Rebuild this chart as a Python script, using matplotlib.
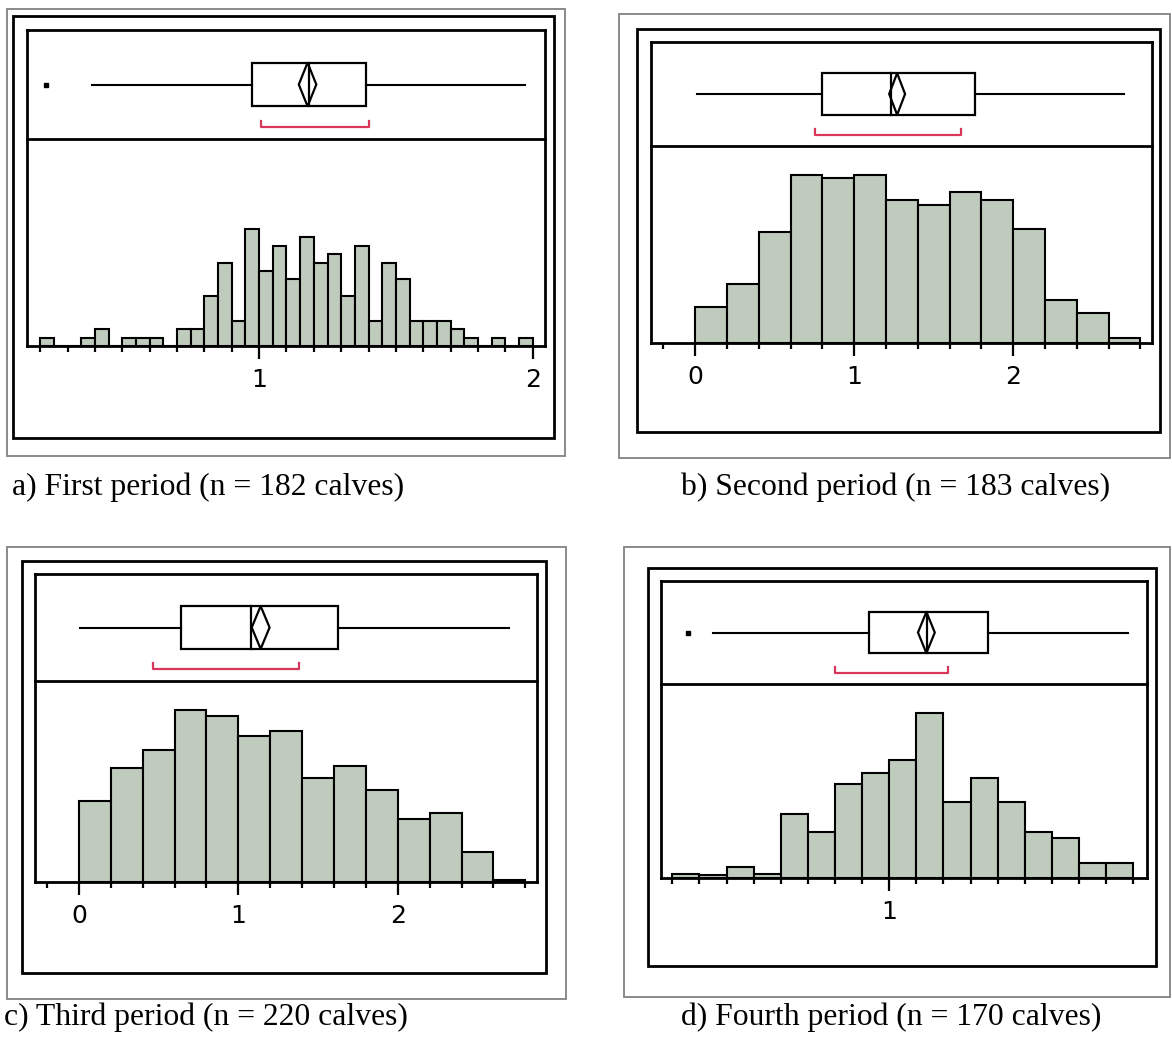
import matplotlib
matplotlib.use("Agg")
import matplotlib.pyplot as plt
from matplotlib.patches import Rectangle, Polygon
from matplotlib.ticker import FixedLocator, NullFormatter
import numpy as np

# ---------------- data ----------------
captions = ["a) First period (n = 182 calves)",
            "b) Second period (n = 183 calves)",
            "c) Third period (n = 220 calves)",
            "d) Fourth period (n = 170 calves)"]

# panel a : bins of 0.05 starting at 0.20
a_bin_start, a_bin_width = 0.20, 0.05
a_freq = [1, 0, 0, 1, 2, 0, 1, 1, 1, 0, 2, 2, 6, 10, 3, 14, 9, 12, 8, 13,
          10, 11, 6, 12, 3, 10, 8, 3, 3, 3, 2, 1, 0, 1, 0, 1]
a_ticks = [0.2, 0.3, 0.4, 0.5, 0.6, 0.7, 0.8, 0.9, 1.0, 1.1, 1.2, 1.3, 1.4,
           1.5, 1.6, 1.7, 1.8, 1.9, 2.0]
a_labeled = [1, 2]
a_box = dict(outliers=[0.223], wlo=0.39, q1=0.973, med=1.184, q3=1.392,
             whi=1.973, mean=1.177, ci=0.032, sh_lo=1.007, sh_hi=1.401)

# panel b : bins of 0.2 starting at 0
b_bin_start, b_bin_width = 0.0, 0.2
b_freq = [4.5, 7.3, 13.8, 20.8, 20.5, 20.8, 17.7, 17.1, 18.8, 17.7, 14.1,
          5.4, 3.7, 0.6]
b_ticks = [-0.2, 0.0, 0.2, 0.4, 0.6, 0.8, 1.0, 1.2, 1.4, 1.6, 1.8, 2.0, 2.2,
           2.4, 2.6, 2.8]
b_labeled = [0, 1, 2]
b_box = dict(outliers=[], wlo=0.01, q1=0.80, med=1.233, q3=1.759,
             whi=2.70, mean=1.27, ci=0.05, sh_lo=0.753, sh_hi=1.672)

# panel c : bins of 0.2 starting at 0
c_bin_start, c_bin_width = 0.0, 0.2
c_freq = [12.4, 17.4, 20.2, 26.3, 25.5, 22.3, 23.1, 15.9, 17.7, 14.1, 9.6,
          10.6, 4.6, 0.36]
c_ticks = [-0.2, 0.0, 0.2, 0.4, 0.6, 0.8, 1.0, 1.2, 1.4, 1.6, 1.8, 2.0, 2.2,
           2.4, 2.6, 2.8]
c_labeled = [0, 1, 2]
c_box = dict(outliers=[], wlo=0.01, q1=0.64, med=1.077, q3=1.624,
             whi=2.696, mean=1.14, ci=0.056, sh_lo=0.464, sh_hi=1.38)

# panel d : bins of 0.1 starting at 0.2
d_bin_start, d_bin_width = 0.2, 0.1
d_freq = [0.75, 0.57, 1.9, 0.75, 11.1, 8.0, 16.2, 18.1, 20.4, 28.5, 13.1,
          17.3, 13.1, 8.0, 6.9, 2.7, 2.7]
d_ticks = [0.2, 0.3, 0.4, 0.5, 0.6, 0.7, 0.8, 0.9, 1.0, 1.1, 1.2, 1.3, 1.4,
           1.5, 1.6, 1.7, 1.8, 1.9]
d_labeled = [1]
d_box = dict(outliers=[0.256], wlo=0.35, q1=0.926, med=1.138, q3=1.363,
             whi=1.881, mean=1.137, ci=0.031, sh_lo=0.80, sh_hi=1.215)

# ---------------- layout (pixels) ----------------
W, H = 1172, 1039
fig = plt.figure(figsize=(W / 100, H / 100), dpi=100)

panels = [
    dict(data=(a_bin_start, a_bin_width, a_freq, a_ticks, a_labeled, a_box),
         gray=(6.7, 9, 565, 456), black=(13, 16, 554, 438),
         inner=(27, 30, 544.6, 346), div=139, xlim=(0.152, 2.043), ymax=24.8,
         cap=(12, 495)),
    dict(data=(b_bin_start, b_bin_width, b_freq, b_ticks, b_labeled, b_box),
         gray=(619, 14, 1170, 458), black=(637, 29, 1160, 432),
         inner=(651, 42, 1152, 343), div=146, xlim=(-0.278, 2.873), ymax=24.46,
         cap=(681, 495)),
    dict(data=(c_bin_start, c_bin_width, c_freq, c_ticks, c_labeled, c_box),
         gray=(6.7, 547, 566, 999), black=(21.5, 561, 546, 973),
         inner=(35, 574, 537, 882), div=681, xlim=(-0.275, 2.873), ymax=30.8,
         cap=(4, 1025)),
    dict(data=(d_bin_start, d_bin_width, d_freq, d_ticks, d_labeled, d_box),
         gray=(623.5, 547, 1170, 997), black=(647.6, 567.7, 1155.8, 965.7),
         inner=(661, 581, 1146.5, 878.3), div=684, xlim=(0.158, 1.949), ymax=33.4,
         cap=(681, 1025)),
]

FILL = "#bfcbbd"
RED = "#d8375b"
GRAY = "#8a8a8a"


def frame(x0, y0, x1, y1, color, lw):
    fig.add_artist(Rectangle((x0 / W, 1 - y1 / H), (x1 - x0) / W, (y1 - y0) / H,
                             transform=fig.transFigure, fill=False,
                             edgecolor=color, linewidth=lw))


def axes_px(x0, y0, x1, y1):
    return fig.add_axes([x0 / W, 1 - y1 / H, (x1 - x0) / W, (y1 - y0) / H])


for i, p in enumerate(panels):
    start, width, freq, ticks, labeled, box = p["data"]
    frame(*p["gray"], GRAY, 1.4)
    frame(*p["black"], "black", 2.0)
    x0, y0, x1, y1 = p["inner"]

    # --- histogram axes
    ah = axes_px(x0, p["div"], x1, y1)
    edges = start + width * np.arange(len(freq))
    ah.bar(edges, freq, width=width, align="edge", color=FILL,
           edgecolor="black", linewidth=1.5, zorder=2)
    ah.set_xlim(*p["xlim"])
    ah.set_ylim(0, p["ymax"])
    ah.set_yticks([])
    ah.xaxis.set_major_locator(FixedLocator(labeled))
    ah.set_xticklabels([str(v) for v in labeled])
    minors = [t for t in ticks if all(abs(t - m) > 1e-9 for m in labeled)]
    ah.xaxis.set_minor_locator(FixedLocator(minors))
    ah.xaxis.set_minor_formatter(NullFormatter())
    ah.tick_params(axis="x", which="major", direction="out", length=9,
                   width=1.6, labelsize=18, pad=6.5)
    ah.tick_params(axis="x", which="minor", direction="out", length=4.5,
                   width=1.6)
    for s in ah.spines.values():
        s.set_linewidth(2.0)
    ah.spines["top"].set_visible(False)
    ah.patch.set_alpha(0)

    # --- box plot axes
    ab = axes_px(x0, y0, x1, p["div"])
    ab.set_xlim(*p["xlim"])
    ab.set_ylim(0, 1)
    ab.set_xticks([])
    ab.set_yticks([])
    for s in ab.spines.values():
        s.set_linewidth(2.0)
    lo, hi, mid = 0.30, 0.70, 0.50
    ab.plot([box["wlo"], box["q1"]], [mid, mid], color="black", lw=1.5)
    ab.plot([box["q3"], box["whi"]], [mid, mid], color="black", lw=1.5)
    ab.add_patch(Rectangle((box["q1"], lo), box["q3"] - box["q1"], hi - lo,
                           facecolor="white", edgecolor="black", lw=1.6))
    ab.plot([box["med"], box["med"]], [lo, hi], color="black", lw=1.6)
    m, c = box["mean"], box["ci"]
    ab.add_patch(Polygon([(m - c, mid), (m, hi), (m + c, mid), (m, lo)],
                         closed=True, fill=False, edgecolor="black", lw=1.6))
    for o in box["outliers"]:
        ab.plot([o], [mid], marker="s", color="black", markersize=3)
    ab.plot([box["sh_lo"], box["sh_lo"], box["sh_hi"], box["sh_hi"]],
            [0.165, 0.11, 0.11, 0.165], color=RED, lw=1.6)

    # --- caption
    cx, cy = p["cap"]
    fig.text(cx / W, 1 - cy / H, captions[i], fontsize=22.8,
             family="Liberation Serif", ha="left", va="baseline")

fig.savefig("out.png", dpi=100)
